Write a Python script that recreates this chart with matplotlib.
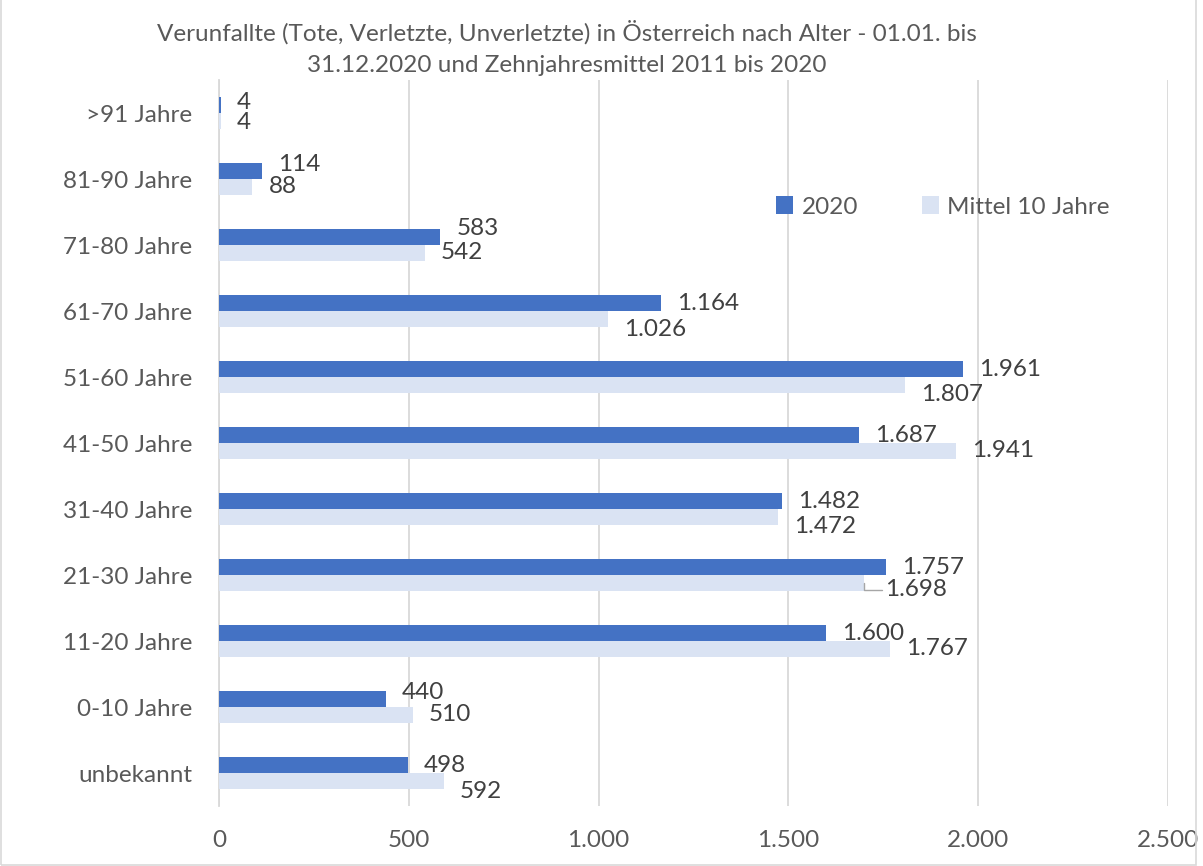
import matplotlib.pyplot as plt
from matplotlib.patches import Rectangle
import numpy as np

plt.rcParams['font.family'] = ['Lato', 'DejaVu Sans']

# Data (bottom to top)
categories = ['unbekannt', '0-10 Jahre', '11-20 Jahre', '21-30 Jahre', '31-40 Jahre',
              '41-50 Jahre', '51-60 Jahre', '61-70 Jahre', '71-80 Jahre', '81-90 Jahre',
              '>91 Jahre']
values_2020 = [498, 440, 1600, 1757, 1482, 1687, 1961, 1164, 583, 114, 4]
values_mittel = [592, 510, 1767, 1698, 1472, 1941, 1807, 1026, 542, 88, 4]

# label vertical shifts in pixels (positive = up), like Excel's placement
shift_2020 = [0, 7, 0, 0, 0, 0, 0, 0, 9, 7, 3]
shift_mittel = [-11, 0, 0, -7, -10, 0, -10, -11, 0, 0, -2]

c_2020 = '#4472C4'
c_mittel = '#DAE3F3'
txt = '#404040'
axis_txt = '#595959'
fs = 17.5

fig = plt.figure(figsize=(12.03, 8.66), dpi=100)
ax = fig.add_axes([219 / 1203, 1 - 806 / 866, (1168 - 219) / 1203, (806 - 80) / 866])

y = np.arange(len(categories))
h = 0.242
ax.barh(y + h / 2, values_2020, height=h, color=c_2020, label='2020', zorder=3)
ax.barh(y - h / 2, values_mittel, height=h, color=c_mittel, label='Mittel 10 Jahre', zorder=3)

px = 0.72  # pixels -> points
fmt = lambda v: f'{v:,}'.replace(',', '.')
for i in range(len(categories)):
    ax.annotate(fmt(values_2020[i]), xy=(values_2020[i], y[i] + h / 2),
                xytext=(16 * px, shift_2020[i] * px), textcoords='offset points',
                ha='left', va='center', fontsize=fs, color=txt)
    if categories[i] == '21-30 Jahre':
        ax.annotate(fmt(values_mittel[i]), xy=(values_mittel[i], y[i] - h / 2),
                    xytext=(21 * px, shift_mittel[i] * px), textcoords='offset points',
                    ha='left', va='center', fontsize=fs, color=txt,
                    arrowprops=dict(arrowstyle='-', color='#A6A6A6', lw=1,
                                    shrinkA=0, shrinkB=0,
                                    connectionstyle='angle,angleA=0,angleB=90,rad=0'))
    else:
        ax.annotate(fmt(values_mittel[i]), xy=(values_mittel[i], y[i] - h / 2),
                    xytext=(16 * px, shift_mittel[i] * px), textcoords='offset points',
                    ha='left', va='center', fontsize=fs, color=txt)

ax.set_xlim(0, 2500)
ax.set_ylim(-0.5, len(categories) - 0.5)
ax.set_xticks(np.arange(0, 2501, 500))
ax.set_xticklabels([fmt(v) for v in range(0, 2501, 500)])
ax.set_yticks(y)
ax.set_yticklabels(categories)
ax.tick_params(axis='both', length=0, labelsize=fs, colors=axis_txt)
ax.tick_params(axis='y', pad=19)
ax.tick_params(axis='x', pad=17)
ax.grid(axis='x', color='#D9D9D9', lw=1.3, zorder=0)
for s in ['top', 'right', 'bottom']:
    ax.spines[s].set_visible(False)
ax.spines['left'].set_color('#D9D9D9')
ax.spines['left'].set_linewidth(1.3)

fig.legend(loc='center', bbox_to_anchor=(943 / 1203, 1 - 207 / 866), ncol=2,
           frameon=False, fontsize=fs, labelcolor=axis_txt, handlelength=0.7,
           handleheight=0.7, columnspacing=2.6, handletextpad=0.35)

fig.text(567 / 1203, 1 - 48 / 866,
         'Verunfallte (Tote, Verletzte, Unverletzte) in Österreich nach Alter - 01.01. bis\n'
         '31.12.2020 und Zehnjahresmittel 2011 bis 2020',
         ha='center', va='center', fontsize=17.5, color=axis_txt, linespacing=1.6)

fig.patches.append(Rectangle((0.001, 0.001), 0.993, 1.5, transform=fig.transFigure,
                             fill=False, edgecolor='#D9D9D9', lw=1.2))

fig.savefig('out.png', dpi=100)
